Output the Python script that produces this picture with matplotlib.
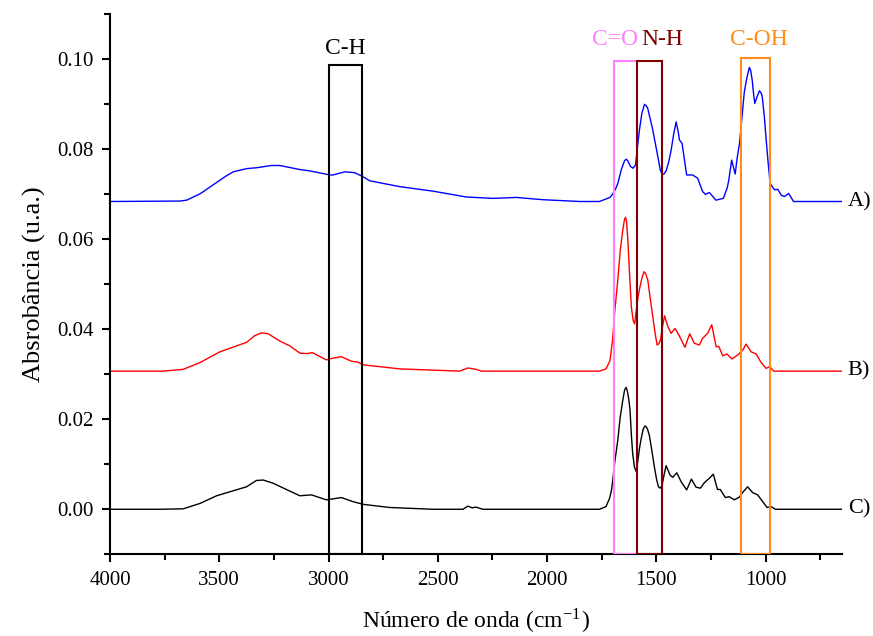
import matplotlib as mpl
mpl.use('Agg')
import matplotlib.pyplot as plt
from matplotlib.patches import Rectangle
import matplotlib.transforms as mtransforms

plt.rcParams['font.family'] = 'Liberation Serif'
plt.rcParams['mathtext.fontset'] = 'stix'

# espectro A (azul)
xA = [4000, 3680, 3649, 3588, 3528, 3474, 3436, 3375, 3330, 3261, 3223, 3131, 3085,
      2994, 2979, 2925, 2880, 2842, 2811, 2674, 2522, 2369, 2247, 2140, 2019, 1851,
      1760, 1712, 1699, 1688, 1676, 1660, 1645, 1637, 1630, 1618, 1607, 1600, 1595,
      1585, 1577, 1566, 1554, 1546, 1539, 1530, 1519, 1505, 1493, 1482, 1473, 1465,
      1455, 1443, 1432, 1420, 1409, 1400, 1394, 1382, 1372, 1361, 1334, 1311, 1288,
      1275, 1257, 1227, 1193, 1175, 1168, 1155, 1139, 1130, 1119, 1108, 1097, 1085,
      1074, 1068, 1061, 1054, 1049, 1040, 1028, 1020, 1015, 1005, 997, 988, 979, 959,
      944, 928, 913, 894, 872, 650]
yA = [0.0684, 0.0685, 0.0687, 0.0701, 0.0721, 0.0739, 0.0750, 0.0757, 0.0759, 0.0764,
      0.0764, 0.0755, 0.0752, 0.0743, 0.0743, 0.0750, 0.0748, 0.0739, 0.0730, 0.0717,
      0.0707, 0.0694, 0.0691, 0.0693, 0.0688, 0.0684,
      0.0684, 0.0693, 0.0701, 0.0710, 0.0724, 0.0755, 0.0775, 0.0778, 0.0774, 0.0762,
      0.0758, 0.0762, 0.0765, 0.0810, 0.0843, 0.0880, 0.0900, 0.0897, 0.0891, 0.0872,
      0.0850, 0.0815, 0.0784, 0.0755, 0.0744, 0.0745, 0.0752, 0.0772, 0.0798, 0.0835,
      0.0861, 0.0840, 0.0821, 0.0813, 0.0780, 0.0743, 0.0743, 0.0736, 0.0706, 0.0700,
      0.0704, 0.0687, 0.0691, 0.0715, 0.0732, 0.0776, 0.0745, 0.0780, 0.0813, 0.0870,
      0.0928, 0.0960, 0.0982, 0.0975, 0.0954, 0.0920, 0.0902, 0.0915, 0.0930, 0.0925,
      0.0917, 0.0870, 0.0821, 0.0770, 0.0724, 0.0710, 0.0711, 0.0698, 0.0695, 0.0702,
      0.0684, 0.0684]

# espectro B (vermelho)
xB = [4000, 3756, 3665, 3588, 3497, 3375, 3337, 3307, 3276, 3223, 3177, 3131, 3101,
      3073, 3010, 2979, 2941, 2895, 2865, 2842, 2674, 2400, 2362, 2324, 2301, 1760,
      1730, 1712, 1700, 1690, 1676, 1665, 1653, 1646, 1641, 1636, 1630, 1622, 1614,
      1606, 1599, 1592, 1584, 1576, 1565, 1556, 1550, 1539, 1528, 1516, 1505, 1496,
      1488, 1481, 1470, 1462, 1447, 1432, 1414, 1394, 1369, 1347, 1326, 1303, 1288,
      1265, 1246, 1226, 1214, 1196, 1176, 1154, 1127, 1104, 1089, 1066, 1043, 1020,
      997, 982, 962, 650]
yB = [0.0307, 0.0307, 0.0311, 0.0326, 0.0350, 0.0371, 0.0386, 0.0392, 0.0390, 0.0374,
      0.0363, 0.0347, 0.0346, 0.0348, 0.0332, 0.0336, 0.0339, 0.0329, 0.0327, 0.0321,
      0.0312, 0.0307, 0.0314, 0.0311, 0.0307, 0.0307,
      0.0312, 0.0330, 0.0376, 0.0440, 0.0510, 0.0575, 0.0621, 0.0643, 0.0649, 0.0640,
      0.0598, 0.0520, 0.0450, 0.0420, 0.0412, 0.0440, 0.0470, 0.0491, 0.0515, 0.0528,
      0.0525, 0.0510, 0.0470, 0.0428, 0.0390, 0.0365, 0.0368, 0.0376, 0.0410, 0.0430,
      0.0406, 0.0391, 0.0402, 0.0385, 0.0360, 0.0390, 0.0369, 0.0365, 0.0380, 0.0391,
      0.0410, 0.0361, 0.0362, 0.0341, 0.0345, 0.0334, 0.0343, 0.0354, 0.0367, 0.0350,
      0.0345, 0.0326, 0.0313, 0.0317, 0.0307, 0.0307]

# espectro C (preto)
xC = [4000, 3771, 3665, 3588, 3512, 3375, 3330, 3299, 3254, 3193, 3131, 3078, 3010,
      2941, 2888, 2842, 2720, 2522, 2385, 2362, 2342, 2327, 2293, 1760, 1730, 1714,
      1705, 1699, 1690, 1676, 1665, 1653, 1645, 1638, 1632, 1626, 1620, 1614, 1608,
      1600, 1592, 1585, 1577, 1570, 1560, 1552, 1547, 1540, 1532, 1520, 1509, 1498,
      1490, 1482, 1474, 1465, 1455, 1437, 1425, 1406, 1386, 1361, 1339, 1318, 1298,
      1280, 1257, 1239, 1220, 1207, 1184, 1166, 1143, 1120, 1102, 1082, 1059, 1036,
      1013, 993, 975, 955, 650]
yC = [0.0, 0.0, 0.0001, 0.0013, 0.0030, 0.0050, 0.0064, 0.0065, 0.0058, 0.0044,
      0.0030, 0.0032, 0.0021, 0.0026, 0.0017, 0.0011, 0.0004, 0.0, 0.0, 0.0007,
      0.0003, 0.0005, 0.0, 0.0,
      0.0006, 0.0024, 0.0042, 0.0065, 0.0105, 0.0154, 0.0205, 0.0243, 0.0265, 0.0271,
      0.0262, 0.0245, 0.0220, 0.0165, 0.0124, 0.0094, 0.0084, 0.0105, 0.0135, 0.0155,
      0.0178, 0.0185, 0.0184, 0.0178, 0.0165, 0.0130, 0.0095, 0.0065, 0.0050, 0.0047,
      0.0052, 0.0075, 0.0097, 0.0076, 0.0071, 0.0081, 0.0061, 0.0043, 0.0067, 0.0049,
      0.0047, 0.0059, 0.0069, 0.0078, 0.0044, 0.0044, 0.0026, 0.0028, 0.0021, 0.0027,
      0.0039, 0.0050, 0.0037, 0.0032, 0.0017, 0.0004, 0.0006, 0.0, 0.0]

# bandas marcadas: nome, inicio, fim, topo, cor
bandas = ['C-H', 'C=O', 'N-H', 'C-OH']
b_ini = [3000, 1695, 1587, 1112]
b_fim = [2845, 1587, 1472, 980]
b_topo = [0.0988, 0.0996, 0.0996, 0.1004]
b_cor = ['black', '#ff80ff', '#7f0000', '#ff8c1a']
rot_x = [2922, 1688, 1471, 1031]
rot_y = [0.1024, 0.1043, 0.1043, 0.1043]

fig = plt.figure(figsize=(8.73, 6.36), dpi=100)
ax = fig.add_axes([0.126, 0.1285, 0.8385, 0.849])

ax.plot(xA, yA, color='#0000ff', lw=1.0)
ax.plot(xB, yB, color='#ff0000', lw=1.0)
ax.plot(xC, yC, color='black', lw=1.0)

for nome, x0, x1, top, cor, tx, ty in zip(bandas, b_ini, b_fim, b_topo, b_cor, rot_x, rot_y):
    ax.add_patch(Rectangle((x1, -0.0099), x0 - x1, top + 0.0099, fill=False,
                           edgecolor=cor, lw=1.5, zorder=3))
    ax.text(tx, ty, nome, color=cor, fontsize=17, ha='center', va='center')

trans = mtransforms.blended_transform_factory(ax.transAxes, ax.transData)
for lab, yy in zip(['A)', 'B)', 'C)'], [yA[-1], yB[-1], yC[-1]]):
    ax.text(1.008, yy, lab, transform=trans, fontsize=16, ha='left', va='center',
            clip_on=False)

ax.set_xlim(4000, 650)
ax.set_ylim(-0.01, 0.11)
ax.set_xticks([4000, 3500, 3000, 2500, 2000, 1500, 1000])
ax.set_xticks(range(3750, 650, -500), minor=True)
ax.set_yticks([0.00, 0.02, 0.04, 0.06, 0.08, 0.10])
ax.set_yticks([-0.01, 0.01, 0.03, 0.05, 0.07, 0.09, 0.11], minor=True)
ax.set_yticklabels(['0.00', '0.02', '0.04', '0.06', '0.08', '0.10'])
ax.tick_params(which='major', direction='out', length=6, width=1.5, labelsize=15, pad=6)
ax.tick_params(which='minor', direction='out', length=4, width=1.5)
for s in ['top', 'right']:
    ax.spines[s].set_visible(False)
for s in ['left', 'bottom']:
    ax.spines[s].set_linewidth(1.5)

ax.set_xlabel('Número de onda (cm$^{\\mathregular{-1}}$)', fontsize=17, labelpad=12)
ax.set_ylabel('Absrobância (u.a.)', fontsize=19, labelpad=8)

fig.savefig('out.png', dpi=100)
